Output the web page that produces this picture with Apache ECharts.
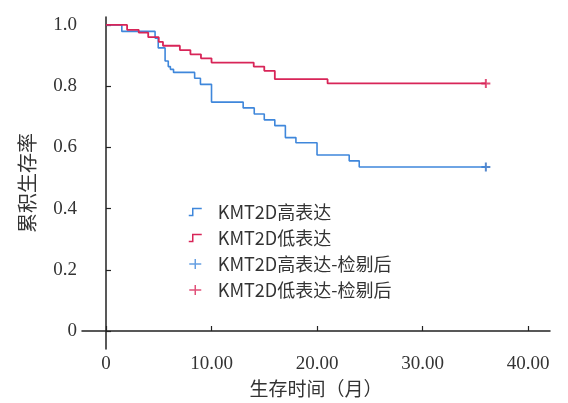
<!DOCTYPE html>
<html>
<head>
<meta charset="utf-8">
<script src="https://cdn.jsdelivr.net/npm/echarts@6/dist/echarts.min.js"></script>
<style>
html,body{margin:0;padding:0;background:#fff;}
#chart{width:568px;height:403px;}
</style>
</head>
<body>
<div id="chart"></div>
<script>
// ---- data ----
var highTimes = [0, 1.5, 4.65, 4.95, 5.6, 5.9, 6.1, 6.4, 8.4, 8.95, 10.0, 13.0, 14.05, 15.0, 16.0, 17.0, 18.0, 20.0, 23.05, 24.0, 36];
var highSurv  = [1.0, 0.979, 0.957, 0.925, 0.882, 0.864, 0.855, 0.845, 0.826, 0.806, 0.748, 0.729, 0.709, 0.69, 0.671, 0.632, 0.615, 0.575, 0.556, 0.536, 0.536];
var lowTimes  = [0, 2.0, 3.1, 4.0, 5.0, 5.4, 7.0, 8.0, 9.0, 10.0, 14.0, 15.0, 16.0, 21.0, 36];
var lowSurv   = [1.0, 0.984, 0.975, 0.96, 0.945, 0.932, 0.918, 0.904, 0.891, 0.877, 0.864, 0.85, 0.823, 0.809, 0.809];
var highCensorTimes = [36];
var highCensorSurv  = [0.536];
var lowCensorTimes  = [36];
var lowCensorSurv   = [0.809];
var seriesNames = ['KMT2D高表达', 'KMT2D低表达', 'KMT2D高表达-检剔后', 'KMT2D低表达-检剔后'];
var xTickValues = [0, 10, 20, 30, 40];
var xTickLabels = ['0', '10.00', '20.00', '30.00', '40.00'];
var yTickValues = [0, 0.2, 0.4, 0.6, 0.8, 1.0];
var yTickLabels = ['0', '0.2', '0.4', '0.6', '0.8', '1.0'];
var xAxisName = '生存时间（月）';
var yAxisName = '累积生存率';

var BLUE = '#3f87db';
var RED = '#d82558';
var AXIS = '#222222';

function pairs(xs, ys) { return xs.map(function (x, i) { return [x, ys[i]]; }); }
function lookup(vals, labels) {
  return function (v) {
    for (var i = 0; i < vals.length; i++) if (Math.abs(vals[i] - v) < 1e-6) return labels[i];
    return '';
  };
}

var stepIcon = 'path://M0,9L4,9L4,2L13,2';
var crossIcon = 'path://M0,5L12,5M6,0L6,10';

var chart = echarts.init(document.getElementById('chart'), null, {renderer: 'canvas'});
chart.setOption({
  backgroundColor: '#ffffff',
  animation: false,
  grid: {left: 82, right: 18, top: 17, bottom: 54},
  xAxis: {
    type: 'value',
    min: -2.275, max: 42.08,
    axisLine: {show: true, lineStyle: {color: AXIS, width: 1.5}},
    axisTick: {show: true, inside: true, length: 5, customValues: xTickValues, lineStyle: {color: AXIS, width: 1.2}},
    axisLabel: {customValues: xTickValues, formatter: lookup(xTickValues, xTickLabels), color: '#333',
      fontFamily: 'Liberation Serif', fontSize: 19, margin: 6},
    splitLine: {show: false},
    name: xAxisName, nameLocation: 'middle', nameGap: 30,
    nameTextStyle: {fontFamily: 'Noto Sans CJK SC', fontSize: 19, color: '#333'}
  },
  yAxis: {
    type: 'value',
    min: -0.0588, max: 1.026,
    axisLine: {show: true, lineStyle: {color: AXIS, width: 1.5}},
    axisTick: {show: true, inside: true, length: 5, customValues: yTickValues, lineStyle: {color: AXIS, width: 1.2}},
    axisLabel: {customValues: yTickValues, formatter: lookup(yTickValues, yTickLabels), color: '#333',
      fontFamily: 'Liberation Serif', fontSize: 19, margin: 5, padding: [10, 0, 0, 0]},
    splitLine: {show: false},
    name: yAxisName, nameLocation: 'middle', nameGap: 45,
    nameTextStyle: {fontFamily: 'Noto Sans CJK SC', fontSize: 20, color: '#333'}
  },
  legend: {
    orient: 'vertical',
    left: 183, top: 198,
    itemWidth: 13, itemHeight: 10, itemGap: 8,
    textStyle: {fontFamily: 'Noto Sans CJK SC', fontSize: 18, color: '#333', padding: [0, 0, 0, 11]},
    data: [
      {name: seriesNames[0], icon: stepIcon, itemStyle: {color: 'transparent', borderColor: BLUE, borderWidth: 1.5}},
      {name: seriesNames[1], icon: stepIcon, itemStyle: {color: 'transparent', borderColor: RED, borderWidth: 1.5}},
      {name: seriesNames[2], icon: crossIcon, itemStyle: {color: 'transparent', borderColor: BLUE, borderWidth: 1.5}},
      {name: seriesNames[3], icon: crossIcon, itemStyle: {color: 'transparent', borderColor: RED, borderWidth: 1.5}}
    ]
  },
  series: [
    {name: seriesNames[0], type: 'line', step: 'end', showSymbol: false, symbol: 'none',
      data: pairs(highTimes, highSurv), lineStyle: {color: BLUE, width: 1.6}, itemStyle: {color: BLUE}},
    {name: seriesNames[1], type: 'line', step: 'end', showSymbol: false, symbol: 'none',
      data: pairs(lowTimes, lowSurv), lineStyle: {color: RED, width: 1.8}, itemStyle: {color: RED}},
    {name: seriesNames[2], type: 'scatter', symbol: crossIcon, symbolSize: [9, 9],
      data: pairs(highCensorTimes, highCensorSurv), itemStyle: {color: 'transparent', borderColor: '#2d6cc0', borderWidth: 2}},
    {name: seriesNames[3], type: 'scatter', symbol: crossIcon, symbolSize: [9, 9],
      data: pairs(lowCensorTimes, lowCensorSurv), itemStyle: {color: 'transparent', borderColor: RED, borderWidth: 2}}
  ]
});
</script>
</body>
</html>
